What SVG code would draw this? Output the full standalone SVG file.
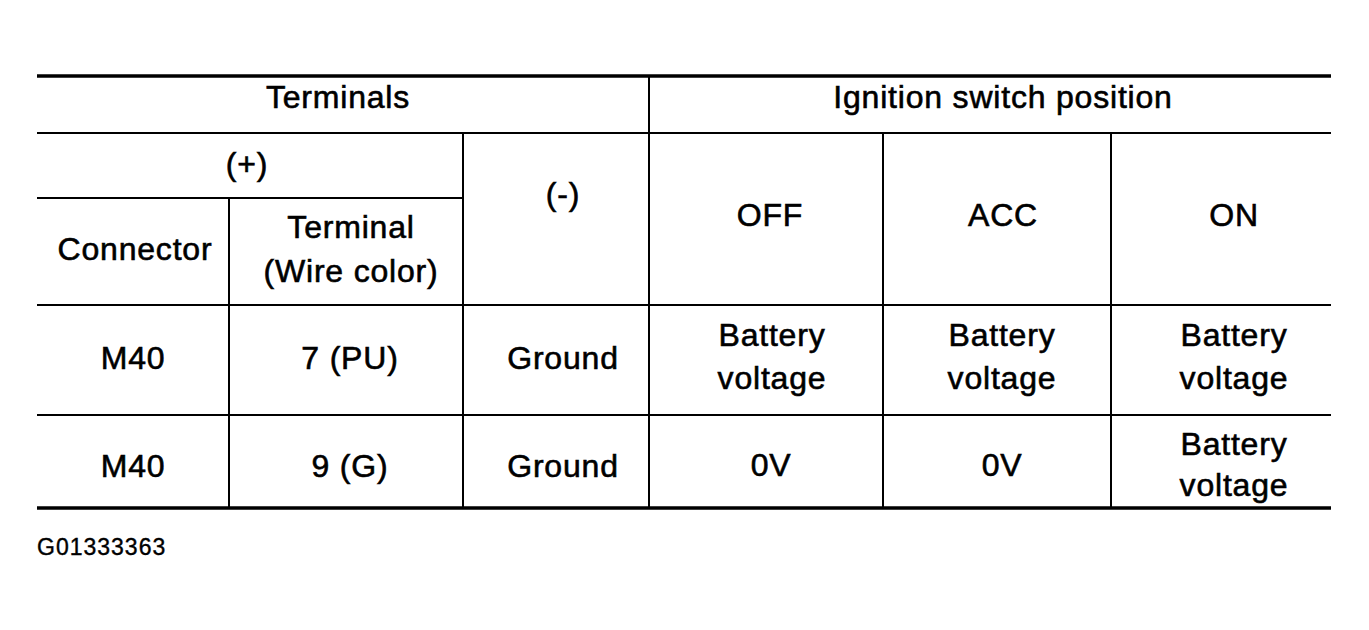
<svg xmlns="http://www.w3.org/2000/svg" width="1369" height="630" viewBox="0 0 1369 630">
<style>
.t{font-family:"Liberation Sans",Arial,sans-serif;font-size:32px;letter-spacing:0.8px;fill:#000;stroke:#000;stroke-width:0.6px;text-anchor:middle}
.n{font-family:"Liberation Sans",Arial,sans-serif;font-size:23px;letter-spacing:1px;fill:#000;stroke:#000;stroke-width:0.4px}
.thin{stroke:#000;stroke-width:2;fill:none}
.thick{stroke:#000;stroke-width:3.5;fill:none}
</style>
<rect width="1369" height="630" fill="#fff"/>
<g id="grid">
<line class="thick" x1="37" y1="76" x2="1331" y2="76"/>
<line class="thin" x1="37" y1="133" x2="1331" y2="133"/>
<line class="thin" x1="37" y1="198" x2="464" y2="198"/>
<line class="thin" x1="37" y1="305" x2="1331" y2="305"/>
<line class="thin" x1="37" y1="415" x2="1331" y2="415"/>
<line class="thick" x1="37" y1="508" x2="1331" y2="508"/>
<line class="thin" x1="229" y1="198" x2="229" y2="508"/>
<line class="thin" x1="463" y1="133" x2="463" y2="508"/>
<line class="thin" x1="649" y1="76" x2="649" y2="508"/>
<line class="thin" x1="883" y1="133" x2="883" y2="508"/>
<line class="thin" x1="1111" y1="133" x2="1111" y2="508"/>
</g>
<g id="header">
<text class="t" x="338" y="108">Terminals</text>
<text class="t" x="1003" y="108">Ignition switch position</text>
<text class="t" x="247" y="175">(+)</text>
<text class="t" x="563" y="205">(-)</text>
<text class="t" x="135" y="260">Connector</text>
<text class="t" x="351" y="238">Terminal</text>
<text class="t" x="351" y="282">(Wire color)</text>
<text class="t" x="770" y="226">OFF</text>
<text class="t" x="1003" y="226">ACC</text>
<text class="t" x="1234" y="226">ON</text>
</g>
<g id="row1">
<text class="t" x="133" y="369">M40</text>
<text class="t" x="350" y="369">7 (PU)</text>
<text class="t" x="563" y="369">Ground</text>
<text class="t" x="772" y="346">Battery</text>
<text class="t" x="772" y="389">voltage</text>
<text class="t" x="1002" y="346">Battery</text>
<text class="t" x="1002" y="389">voltage</text>
<text class="t" x="1234" y="346">Battery</text>
<text class="t" x="1234" y="389">voltage</text>
</g>
<g id="row2">
<text class="t" x="133" y="477">M40</text>
<text class="t" x="350" y="477">9 (G)</text>
<text class="t" x="563" y="477">Ground</text>
<text class="t" x="771" y="476">0V</text>
<text class="t" x="1002" y="476">0V</text>
<text class="t" x="1234" y="455">Battery</text>
<text class="t" x="1234" y="496">voltage</text>
</g>
<text id="code" class="n" x="37" y="555">G01333363</text>
</svg>
